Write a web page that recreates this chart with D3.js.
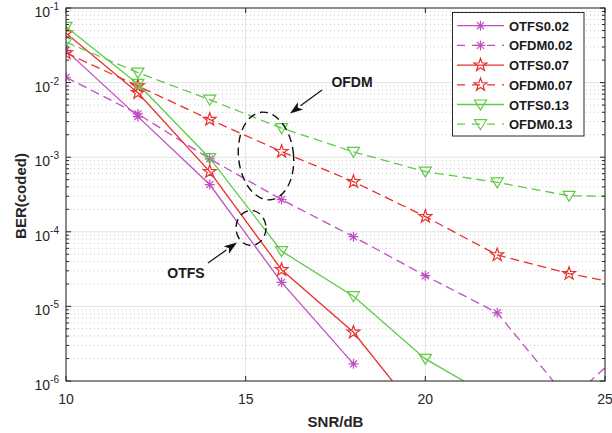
<!DOCTYPE html>
<html><head><meta charset="utf-8">
<script src="https://cdn.jsdelivr.net/npm/d3@7"></script>
<style>
body{margin:0;background:#fff;}
text{font-family:"Liberation Sans",Arial,Helvetica,sans-serif;}
</style></head>
<body><svg id="c" width="612" height="433"></svg>
<script>
const snr = [10,12,14,16,18,20,22,24,26];
const otfs002 = [0.027,0.0035,4.3e-4,2.1e-5,1.7e-6,null,null,null,null];
const ofdm002 = [0.0118,0.0038,9.5e-4,2.7e-4,8.6e-5,2.58e-5,8.2e-6,5.5e-7,4.1e-6];
const otfs007 = [0.046,0.0073,6.4e-4,3.1e-5,4.5e-6,2.8e-7,null,null,null];
const ofdm007 = [0.025,0.009,0.0032,1.19e-3,4.7e-4,1.6e-4,4.9e-5,2.75e-5,1.78e-5];
const otfs013 = [0.056,0.0096,9.7e-4,5.5e-5,1.37e-5,1.98e-6,5.5e-7,null,null];
const ofdm013 = [0.035,0.0136,0.0059,2.45e-3,1.18e-3,6.4e-4,4.6e-4,3.04e-4,2.95e-4];
const seriesNames = ["OTFS0.02","OFDM0.02","OTFS0.07","OFDM0.07","OTFS0.13","OFDM0.13"];
const xTicks = [10,15,20,25];
const yTicks = [1e-6,1e-5,1e-4,1e-3,1e-2,1e-1];

const MAG="#c04fc0", RED="#e8302c", GRN="#5ecb45";
const series = [
 {name:seriesNames[0], v:otfs002, color:MAG, dash:null, m:"ast"},
 {name:seriesNames[1], v:ofdm002, color:MAG, dash:"9,5", m:"ast"},
 {name:seriesNames[2], v:otfs007, color:RED, dash:null, m:"pent"},
 {name:seriesNames[3], v:ofdm007, color:RED, dash:"9,5", m:"pent"},
 {name:seriesNames[4], v:otfs013, color:GRN, dash:null, m:"tri"},
 {name:seriesNames[5], v:ofdm013, color:GRN, dash:"9,5", m:"tri"}
];

const L=66,R=605,T=8,B=381;
const svg=d3.select("#c");
const x=d3.scaleLinear().domain([10,25]).range([L,R]);
const y=d3.scaleLog().domain([1e-6,1e-1]).range([B,T]);

// grid
const g=svg.append("g");
const minorY=[];
for(let e=-6;e<-1;e++) for(let k=2;k<=9;k++) minorY.push(k*Math.pow(10,e));
g.selectAll(".mg").data(minorY).enter().append("line")
 .attr("x1",L).attr("x2",R).attr("y1",d=>y(d)).attr("y2",d=>y(d))
 .attr("stroke","#c8c8c8").attr("stroke-width",1).attr("stroke-dasharray","1,3");
g.selectAll(".gy").data(yTicks).enter().append("line")
 .attr("x1",L).attr("x2",R).attr("y1",d=>y(d)).attr("y2",d=>y(d))
 .attr("stroke","#e3e3e3").attr("stroke-width",1);
g.selectAll(".gx").data(xTicks).enter().append("line")
 .attr("y1",T).attr("y2",B).attr("x1",d=>x(d)).attr("x2",d=>x(d))
 .attr("stroke","#e3e3e3").attr("stroke-width",1);

svg.append("clipPath").attr("id","clip").append("rect").attr("x",L).attr("y",T).attr("width",R-L).attr("height",B-T);

function markerPath(m){
  if(m==="ast"){const r=5,d=r*0.7071;
    return `M${-r},0L${r},0M0,${-r}L0,${r}M${-d},${-d}L${d},${d}M${-d},${d}L${d},${-d}`;}
  if(m==="pent"){let p="";const ro=6.8,ri=2.7;
    for(let i=0;i<10;i++){const a=-Math.PI/2+i*Math.PI/5;const r=i%2?ri:ro;
      p+=(i?"L":"M")+(r*Math.cos(a)).toFixed(2)+","+(r*Math.sin(a)).toFixed(2);} return p+"Z";}
  return "M-6,-4.5L6,-4.5L0,5.5Z";
}

const plot=svg.append("g").attr("clip-path","url(#clip)");
const line=d3.line().defined(d=>d[1]!=null).x(d=>x(d[0])).y(d=>y(d[1]));
series.forEach(s=>{
  const pts=snr.map((t,i)=>[t,s.v[i]]);
  plot.append("path").attr("d",line(pts)).attr("fill","none").attr("stroke",s.color)
   .attr("stroke-width",1.3).attr("stroke-dasharray",s.dash);
  plot.selectAll(null).data(pts.filter(p=>p[1]!=null)).enter().append("path")
   .attr("transform",p=>`translate(${x(p[0])},${y(p[1])})`).attr("d",markerPath(s.m))
   .attr("fill","none").attr("stroke",s.color).attr("stroke-width",1.2);
});

// axes box & ticks
const ax=svg.append("g").attr("stroke","#262626").attr("stroke-width",1);
ax.append("rect").attr("x",L).attr("y",T).attr("width",R-L).attr("height",B-T).attr("fill","none");
xTicks.forEach(t=>{
  ax.append("line").attr("x1",x(t)).attr("x2",x(t)).attr("y1",B).attr("y2",B-5);
  ax.append("line").attr("x1",x(t)).attr("x2",x(t)).attr("y1",T).attr("y2",T+5);
});
yTicks.forEach(t=>{
  ax.append("line").attr("x1",L).attr("x2",L+5).attr("y1",y(t)).attr("y2",y(t));
  ax.append("line").attr("x1",R).attr("x2",R-5).attr("y1",y(t)).attr("y2",y(t));
});
minorY.forEach(t=>{
  ax.append("line").attr("x1",L).attr("x2",L+3).attr("y1",y(t)).attr("y2",y(t));
  ax.append("line").attr("x1",R).attr("x2",R-3).attr("y1",y(t)).attr("y2",y(t));
});

// tick labels
svg.selectAll(".xl").data(xTicks).enter().append("text")
 .attr("x",d=>x(d)).attr("y",404).attr("text-anchor","middle")
 .attr("font-size",14).attr("fill","#262626").text(d=>d);
yTicks.forEach(t=>{
  const e=Math.round(Math.log10(t));
  const tx=svg.append("text").attr("x",59).attr("y",y(t)+9).attr("text-anchor","end")
   .attr("font-size",14).attr("fill","#262626");
  tx.append("tspan").text("10");
  tx.append("tspan").attr("font-size",10).attr("dy",-7).text(e);
});

svg.append("text").attr("x",(L+R)/2).attr("y",427).attr("text-anchor","middle")
 .attr("font-size",15).attr("font-weight","bold").attr("fill","#262626").text("SNR/dB");
svg.append("text").attr("transform","translate(26,196) rotate(-90)").attr("text-anchor","middle")
 .attr("font-size",15).attr("font-weight","bold").attr("fill","#262626").text("BER(coded)");

// annotations
const an=svg.append("g");
an.append("ellipse").attr("cx",266).attr("cy",156).attr("rx",27.5).attr("ry",44)
 .attr("transform","rotate(-6,266,156)")
 .attr("fill","none").attr("stroke","#111").attr("stroke-width",1.4).attr("stroke-dasharray","8,5");
an.append("ellipse").attr("cx",251).attr("cy",228).attr("rx",15).attr("ry",17.5)
 .attr("fill","none").attr("stroke","#111").attr("stroke-width",1.4).attr("stroke-dasharray","8,5");
function arrow(x1,y1,x2,y2){
  const a=Math.atan2(y2-y1,x2-x1),h=13,w=4.5;
  const bx=x2-h*Math.cos(a),by=y2-h*Math.sin(a);
  an.append("line").attr("x1",x1).attr("y1",y1).attr("x2",bx).attr("y2",by).attr("stroke","#111").attr("stroke-width",1.2);
  const px=-Math.sin(a),py=Math.cos(a);
  an.append("path").attr("d",`M${x2},${y2}L${bx+px*w},${by+py*w}L${x2-h*0.75*Math.cos(a)},${y2-h*0.75*Math.sin(a)}L${bx-px*w},${by-py*w}Z`).attr("fill","#111");
}
arrow(322,90,290,113.5);
arrow(208,263,237,242.5);
an.append("text").attr("x",352).attr("y",87).attr("text-anchor","middle").attr("font-size",14)
 .attr("font-weight","bold").attr("fill","#1a1a1a").text("OFDM");
an.append("text").attr("x",186).attr("y",278).attr("text-anchor","middle").attr("font-size",14)
 .attr("font-weight","bold").attr("fill","#1a1a1a").text("OTFS");

// legend
const lg=svg.append("g");
lg.append("rect").attr("x",452.5).attr("y",12.5).attr("width",131.5).attr("height",123.5)
 .attr("fill","#fff").attr("stroke","#262626").attr("stroke-width",1);
series.forEach((s,i)=>{
  const yy=25.7+i*19.7;
  lg.append("line").attr("x1",457).attr("x2",504).attr("y1",yy).attr("y2",yy)
   .attr("stroke",s.color).attr("stroke-width",1.3).attr("stroke-dasharray",s.dash?"8,7":null);
  lg.append("path").attr("transform",`translate(480.5,${yy})`).attr("d",markerPath(s.m))
   .attr("fill","none").attr("stroke",s.color).attr("stroke-width",1.2);
  lg.append("text").attr("x",509).attr("y",yy+5).attr("font-size",13).attr("font-weight","bold")
   .attr("fill","#1a1a1a").text(s.name);
});
</script></body></html>
